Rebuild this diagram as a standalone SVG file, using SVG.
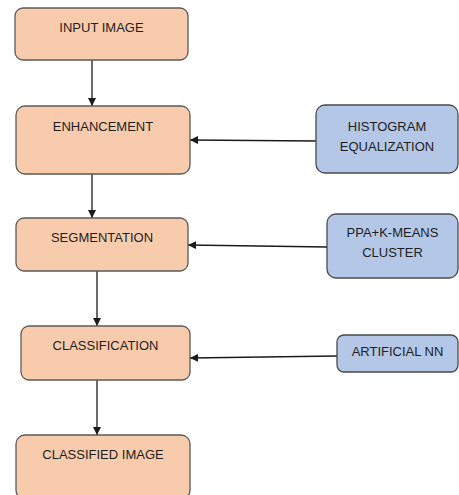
<svg xmlns="http://www.w3.org/2000/svg" width="459" height="495" viewBox="0 0 459 495">
<style>
.p{fill:#F8CBAD;stroke:#5a5a5a;stroke-width:1.3}
.b{fill:#B4C7E7;stroke:#4a4a4a;stroke-width:1.3}
text{font-family:"Liberation Sans",Arial,sans-serif;font-size:13px;fill:#1e1e1e;text-anchor:middle}
.c{stroke:#1a1a1a;stroke-width:1.3;fill:none;marker-end:url(#ah)}
</style>
<defs>
<marker id="ah" viewBox="0 0 10 10" refX="10" refY="5" markerWidth="8" markerHeight="8" markerUnits="userSpaceOnUse" orient="auto">
<path d="M0,0 L10,5 L0,10 z" fill="#1a1a1a"/>
</marker>
</defs>
<rect width="459" height="495" fill="#fff"/>
<g id="connectors">
<line class="c" x1="92" y1="60" x2="92" y2="106"/>
<line class="c" x1="92" y1="174" x2="92" y2="218"/>
<line class="c" x1="97" y1="271" x2="97" y2="326"/>
<line class="c" x1="97" y1="380" x2="97" y2="435"/>
<line class="c" x1="316" y1="141" x2="190" y2="140"/>
<line class="c" x1="327" y1="247" x2="188" y2="245"/>
<line class="c" x1="337" y1="356" x2="190" y2="358"/>
</g>
<g id="input-image"><rect class="p" x="15" y="8" width="173" height="52" rx="8"/><text x="101.5" y="32">INPUT IMAGE</text></g>
<g id="enhancement"><rect class="p" x="16" y="106" width="174" height="68" rx="9"/><text x="103" y="131">ENHANCEMENT</text></g>
<g id="segmentation"><rect class="p" x="16" y="218" width="172" height="53" rx="8"/><text x="102" y="242">SEGMENTATION</text></g>
<g id="classification"><rect class="p" x="21" y="326" width="169" height="54" rx="8"/><text x="105.5" y="350">CLASSIFICATION</text></g>
<g id="classified-image"><rect class="p" x="16" y="435" width="174" height="64" rx="9"/><text x="103" y="459">CLASSIFIED IMAGE</text></g>
<g id="histogram"><rect class="b" x="316" y="105" width="142" height="68" rx="9"/><text x="387" y="131">HISTOGRAM</text><text x="387" y="151">EQUALIZATION</text></g>
<g id="ppa"><rect class="b" x="327" y="214" width="131" height="64" rx="9"/><text x="392.5" y="237">PPA+K-MEANS</text><text x="392.5" y="257">CLUSTER</text></g>
<g id="ann"><rect class="b" x="337" y="335" width="121" height="37" rx="7"/><text x="397.5" y="356">ARTIFICIAL NN</text></g>
</svg>
